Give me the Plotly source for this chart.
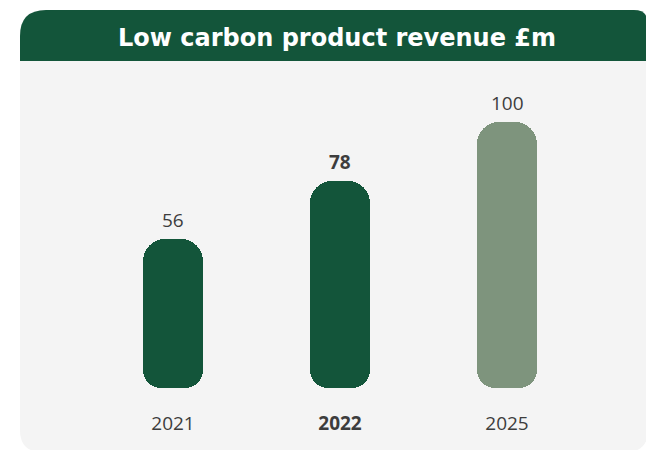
import plotly.graph_objects as go

# ---- data ----
years = ["2021", "2022", "2025"]
revenue = [56, 78, 100]
bar_colors = ["#13553a", "#13553a", "#7e947d"]
highlight = [False, True, False]
title_text = "Low carbon product revenue £m"

# ---- geometry (pixels) ----
W, H = 646, 450
BASE_PX = 388          # pixel row of value zero
PX_PER_UNIT = 2.66     # pixels per £m
X0_PX, STEP_PX = 173, 167
BAR_PX = 60
BAR_RADIUS = 22

GREEN = "#13553a"
PANEL = "#f4f4f4"
TEXT = "#3d3d3d"
FONT = "Open Sans"
TITLE_FONT = "DejaVu Sans"


def fx(px):
    return px / W


def fy(py):
    return (BASE_PX - py) / BASE_PX


def rounded_rect(x0, y0, x1, y1, r_tl, r_tr, r_br, r_bl):
    """Path (paper coords) of a rectangle given in pixels with per-corner radii."""
    p = []
    p.append(f"M {fx(x0 + r_tl)} {fy(y0)}")
    p.append(f"L {fx(x1 - r_tr)} {fy(y0)}")
    p.append(f"Q {fx(x1)} {fy(y0)} {fx(x1)} {fy(y0 + r_tr)}")
    p.append(f"L {fx(x1)} {fy(y1 - r_br)}")
    p.append(f"Q {fx(x1)} {fy(y1)} {fx(x1 - r_br)} {fy(y1)}")
    p.append(f"L {fx(x0 + r_bl)} {fy(y1)}")
    p.append(f"Q {fx(x0)} {fy(y1)} {fx(x0)} {fy(y1 - r_bl)}")
    p.append(f"L {fx(x0)} {fy(y0 + r_tl)}")
    p.append(f"Q {fx(x0)} {fy(y0)} {fx(x0 + r_tl)} {fy(y0)}")
    return " ".join(p) + " Z"


def label(t, bold):
    return f"<b>{t}</b>" if bold else t


xs = list(range(len(years)))
bar_w = BAR_PX / STEP_PX

fig = go.Figure()
# upper part of each pill: rounded at the top
fig.add_bar(
    x=xs, y=[v * 0.75 for v in revenue], base=[v * 0.25 for v in revenue],
    width=bar_w, marker=dict(color=bar_colors, cornerradius=BAR_RADIUS, line_width=0),
    hoverinfo="skip",
)
# lower part of each pill: drawn downwards so the rounding sits at zero
fig.add_bar(
    x=xs, y=[-v * 0.75 for v in revenue], base=[v * 0.75 for v in revenue],
    width=bar_w, marker=dict(color=bar_colors, cornerradius=BAR_RADIUS - 4, line_width=0),
    hoverinfo="skip",
)

# value labels
annotations = []
for i, v in enumerate(revenue):
    annotations.append(dict(
        x=i, y=v, xref="x", yref="y", text=label(str(v), highlight[i]),
        showarrow=False, yanchor="middle", yshift=19,
        font=dict(family=FONT, size=19, color=TEXT),
    ))

# header title
annotations.append(dict(
    x=fx(337), y=fy(38), xref="paper", yref="paper", text=f"<b>{title_text}</b>",
    showarrow=False, xanchor="center", yanchor="middle",
    font=dict(family=TITLE_FONT, size=24, color="white"),
))

shapes = [
    # light panel
    dict(type="path", xref="paper", yref="paper", layer="below", line_width=0,
         fillcolor=PANEL, path=rounded_rect(20, 10, 648, 452, 26, 14, 22, 22)),
    # header band
    dict(type="path", xref="paper", yref="paper", layer="below", line_width=0,
         fillcolor=GREEN, path=rounded_rect(20, 10, 648, 61, 26, 14, 0, 0)),
]

fig.update_layout(
    width=W, height=H,
    margin=dict(l=0, r=0, t=0, b=H - BASE_PX, pad=0),
    paper_bgcolor="white", plot_bgcolor="rgba(0,0,0,0)",
    barmode="overlay", showlegend=False, bargap=0,
    annotations=annotations, shapes=shapes,
    xaxis=dict(
        range=[-X0_PX / STEP_PX, (W - X0_PX) / STEP_PX],
        tickvals=xs, ticktext=[label(y, b) for y, b in zip(years, highlight)],
        showgrid=False, zeroline=False, showline=False, ticks="",
        ticklabelstandoff=22, fixedrange=True,
        tickfont=dict(family=FONT, size=19, color=TEXT),
    ),
    yaxis=dict(range=[0, BASE_PX / PX_PER_UNIT], visible=False, fixedrange=True),
)

fig.write_html("out.html", config={"displayModeBar": False})
